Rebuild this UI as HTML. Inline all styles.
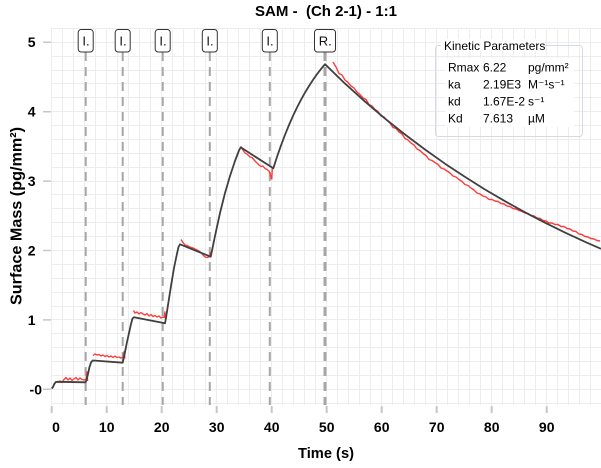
<!DOCTYPE html>
<html><head><meta charset="utf-8"><style>
html,body{margin:0;padding:0;background:#fff;}
svg{display:block;font-family:"Liberation Sans",Arial,sans-serif;}
</style></head><body>
<svg width="601" height="468" viewBox="0 0 601 468" xmlns="http://www.w3.org/2000/svg">
<rect x="0" y="0" width="601" height="468" fill="#fff"/>
<!-- grid -->
<g stroke="#ededed" stroke-width="1" fill="none">
<path d="M51.5 28V405M62.5 28V405M73.5 28V405M84.5 28V405M95.5 28V405M106.5 28V405M117.5 28V405M128.5 28V405M139.5 28V405M150.5 28V405M161.5 28V405M172.5 28V405M183.5 28V405M194.5 28V405M205.5 28V405M216.5 28V405M227.5 28V405M238.5 28V405M249.5 28V405M260.5 28V405M271.5 28V405M282.5 28V405M293.5 28V405M304.5 28V405M315.5 28V405M326.5 28V405M337.5 28V405M348.5 28V405M359.5 28V405M370.5 28V405M381.5 28V405M392.5 28V405M403.5 28V405M414.5 28V405M425.5 28V405M436.5 28V405M447.5 28V405M458.5 28V405M469.5 28V405M480.5 28V405M491.5 28V405M502.5 28V405M513.5 28V405M524.5 28V405M535.5 28V405M546.5 28V405M557.5 28V405M568.5 28V405M579.5 28V405M590.5 28V405"/>
<path d="M51 403.5H601M51 389.5H601M51 375.5H601M51 361.5H601M51 347.5H601M51 333.5H601M51 319.5H601M51 306.5H601M51 292.5H601M51 278.5H601M51 264.5H601M51 250.5H601M51 236.5H601M51 222.5H601M51 208.5H601M51 194.5H601M51 181.5H601M51 167.5H601M51 153.5H601M51 139.5H601M51 125.5H601M51 111.5H601M51 97.5H601M51 83.5H601M51 70.5H601M51 56.5H601M51 42.5H601M51 28.5H601"/>
</g>
<!-- y ticks -->
<g stroke="#c8c8c8" stroke-width="1.5">
<path d="M43 389.3H51M43 319.9H51M43 250.5H51M43 181.1H51M43 111.7H51M43 42.2H51"/>
</g>
<!-- x ticks -->
<g stroke="#c8c8c8" stroke-width="2">
<path d="M51.7 406V413M106.7 406V413M161.7 406V413M216.7 406V413M271.7 406V413M326.7 406V413M381.7 406V413M436.7 406V413M491.7 406V413M546.7 406V413"/>
</g>
<!-- y labels -->
<g font-size="14" font-weight="bold" fill="#000" text-anchor="end">
<text x="35.5" y="47.2">5</text>
<text x="35.5" y="116.7">4</text>
<text x="35.5" y="186.1">3</text>
<text x="35.5" y="255.5">2</text>
<text x="35.5" y="324.9">1</text>
<text x="42" y="394.3">-0</text>
</g>
<!-- x labels -->
<g font-size="14" font-weight="bold" fill="#000" text-anchor="middle">
<text x="56" y="432">0</text>
<text x="106.7" y="432">10</text>
<text x="161.7" y="432">20</text>
<text x="216.7" y="432">30</text>
<text x="271.7" y="432">40</text>
<text x="326.7" y="432">50</text>
<text x="381.7" y="432">60</text>
<text x="436.7" y="432">70</text>
<text x="491.7" y="432">80</text>
<text x="546.7" y="432">90</text>
</g>
<text x="326" y="458" font-size="15" font-weight="bold" text-anchor="middle" textLength="56" lengthAdjust="spacingAndGlyphs">Time (s)</text>
<text x="326" y="16" font-size="15" font-weight="bold" text-anchor="middle" textLength="142" lengthAdjust="spacingAndGlyphs" xml:space="preserve">SAM -  (Ch 2-1) - 1:1</text>
<text transform="translate(21.5,216) rotate(-90)" x="0" y="0" font-size="16" font-weight="bold" text-anchor="middle" textLength="178" lengthAdjust="spacingAndGlyphs">Surface Mass (pg/mm²)</text>

<!-- injection dashed lines -->
<g stroke="#a6a6a6" stroke-width="2" stroke-dasharray="9 6" fill="none">
<path d="M85.7 52V405M122.7 52V405M162.7 52V405M209.8 52V405M269.8 52V405"/>
</g>
<path d="M325 52V405" stroke="#a6a6a6" stroke-width="3" stroke-dasharray="9 6" fill="none"/>

<!-- red data -->
<g stroke="#ff3b3b" stroke-width="1.4" fill="none" stroke-linejoin="round">
<polyline points="52,388.5 54,385 56,381.5 58,382 60,381 62,382.5 64,379.5 66,377.5 68,380 70,378 72,380.5 74,379 76,377.5 78,380 80,378 82,379.5 84,380 86,379.5 87,372 87.6,381"/>
<polyline points="93,355.5 95,354 97,355 99,354.5 101,356 103,355 105,356.5 107,355.5 109,357 111,356 113,357.5 115,356 117,357.5 119,357 121,358 123,357.5 124.2,351.5 124.8,358.5"/>
<polyline points="133.5,310.5 135,313 137,312 139,314 141,312.5 143,314 145,315 147,313.5 149,316 151,314.5 153,316.5 155,315.5 157,317 159,316 161,318 163,317 164.3,317.5 164.9,312 165.4,318"/>
<polyline points="181,239.5 183,242.5 185,245 187,245.5 190,247 193,248 196,249.5 199,251 201,252.5 203,255 205,257 207,257.5 209,257 210,255 210.5,252"/>
<polyline points="240.7,146.5 243,150 245,153 247,154 250,157 252,157.5 255,161 257,163 259,165 261,166.5 263,166 265,168.5 267,169.5 269,171 270,173 271.3,178.5 271.8,179 272.3,168"/>
<polyline points="333,62 336,67 339,73.5 342,75 345,80 348,82.5 351,86 354,88 357,92 360,94.5 363,98 366,99.5 369,104.5 372,106 375,109.5 378,111.5 381,116 384,117 387,120.5 390,123 393,127.5 396,128.5 399,132 402,134 405,138.5 408,140 411,143 414,145 417,149 420,150.5 423,153.5 426,155.5 429,159.5 432,160.5 435,162.5 438,164.5 441,168 444,169 447,171 450,173 453,176 456,177 459,179.5 462,181.5 465,184.5 468,185.5 471,188 474,190 477,193 480,194 483,196 486,197 489,199.5 492,199.5 495,201 498,201.5 501,203.5 504,204 507,206 510,206.5 513,208.5 516,209 519,210.5 522,211.5 525,213 528,213.5 531,215.5 534,216 537,218 540,218.5 543,220.5 546,221 549,223 552,223 555,224.5 558,224.5 561,226.5 564,226.5 567,228.5 570,229 573,231 576,231.5 579,234 582,234.5 585,236.5 588,237 591,238.5 594,239 597,240.5 600,241"/>
</g>

<!-- fit -->
<polyline fill="none" stroke="#404040" stroke-width="1.8" stroke-linejoin="round" points="51.7,388.5 53,387 54.5,383.5 56,382 58,381.8 85.5,382.3 86.5,380 88,374 89.5,367 91,362.5 92.7,360.5 95,360.6 122.7,362.7 123.5,359 125,352 127,342 129,333 131,324 132.5,318.5 134,317.2 165,323.3 166,318 168,305 171,286 174,268 176.5,256 178.5,247 180,244.3 210.7,256.7 211.5,253 215,236 220,213 225,193 230,176 235,161 239,150.5 240.7,147.3 273.3,168.3 277,156.9 281,145.4 285,134.8 289,125 293,115.9 297,107.5 301,99.8 305,92.6 309,86 313,79.9 317,74.2 321,69 325,64.2 345,83.6 365,101.6 385,118.6 405,134.5 425,149.5 445,163.7 465,176.9 485,189.5 505,201.2 525,212.3 545,222.7 565,232.6 585,241.8 601,248.8"/>

<!-- injection boxes -->
<g stroke="#333" stroke-width="1" fill="#fff">
<rect x="78.2" y="29.5" width="15" height="22.5" rx="3"/>
<rect x="115.2" y="29.5" width="15" height="22.5" rx="3"/>
<rect x="155.2" y="29.5" width="15" height="22.5" rx="3"/>
<rect x="202.3" y="29.5" width="15" height="22.5" rx="3"/>
<rect x="262.3" y="29.5" width="15" height="22.5" rx="3"/>
<rect x="314.5" y="29.5" width="21" height="22.5" rx="3"/>
</g>
<g font-size="13" fill="#111" text-anchor="middle">
<text x="86" y="45.5">I.</text>
<text x="123" y="45.5">I.</text>
<text x="163" y="45.5">I.</text>
<text x="210" y="45.5">I.</text>
<text x="270" y="45.5">I.</text>
<text x="325.2" y="45.5">R.</text>
</g>

<!-- legend -->
<rect x="435.5" y="45.5" width="147" height="91" rx="3" fill="none" stroke="#d3dbe3" stroke-width="1"/>
<rect x="441" y="39" width="102" height="12" fill="#fff"/>
<rect x="445" y="58" width="129" height="69" fill="#fff"/>
<g font-size="12" fill="#000">
<text x="444" y="50">Kinetic Parameters</text>
<text x="448" y="71.5">Rmax</text><text x="483" y="71.5">6.22</text><text x="528" y="71.5">pg/mm²</text>
<text x="448" y="88.5">ka</text><text x="483" y="88.5">2.19E3</text><text x="528" y="88.5">M⁻¹s⁻¹</text>
<text x="448" y="105.5">kd</text><text x="483" y="105.5">1.67E-2</text><text x="528" y="105.5">s⁻¹</text>
<text x="448" y="122.5">Kd</text><text x="483" y="122.5">7.613</text><text x="528" y="122.5">µM</text>
</g>
</svg>
</body></html>
